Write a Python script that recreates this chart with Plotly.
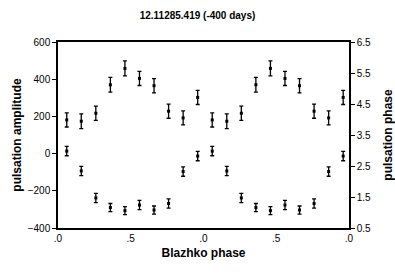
import plotly.graph_objects as go

blazhko_phase = [0.06, 0.16, 0.26, 0.36, 0.46, 0.56, 0.66, 0.76, 0.86, 0.96]
amplitude = [181, 174, 217, 370, 458, 404, 365, 228, 192, 302]
amplitude_err = [38, 40, 38, 40, 40, 38, 38, 38, 38, 38]
pulsation_phase = [2.98, 2.34, 1.47, 1.16, 1.06, 1.24, 1.08, 1.29, 2.32, 2.82]
phase_err = [0.15, 0.15, 0.15, 0.13, 0.13, 0.15, 0.13, 0.15, 0.15, 0.15]

x_ticks = [0, 0.5, 1, 1.5, 2]
x_ticktext = [".0", ".5", ".0", ".5", ".0"]
y1_ticks = [-400, -200, 0, 200, 400, 600]
y2_ticks = [0.5, 1.5, 2.5, 3.5, 4.5, 5.5, 6.5]

# two Blazhko cycles shown
xs = blazhko_phase + [p + 1 for p in blazhko_phase]
amp2 = amplitude * 2
amperr2 = amplitude_err * 2
ph2 = pulsation_phase * 2
pherr2 = phase_err * 2

fig = go.Figure()
fig.add_trace(go.Scatter(
    x=xs, y=amp2, mode="markers",
    marker=dict(symbol="square", size=3, color="black"),
    error_y=dict(type="data", array=amperr2, color="black", thickness=1.3, width=2),
    yaxis="y", showlegend=False))
fig.add_trace(go.Scatter(
    x=xs, y=ph2, mode="markers",
    marker=dict(symbol="square", size=3, color="black"),
    error_y=dict(type="data", array=pherr2, color="black", thickness=1.3, width=2),
    yaxis="y2", showlegend=False))

font = dict(family="Liberation Sans, Arial", size=10, color="black")
fig.update_layout(
    width=395, height=274,
    margin=dict(l=58, r=46, t=42, b=46),
    paper_bgcolor="white", plot_bgcolor="white",
    font=font,
    title=dict(text="<b>12.11285.419 (-400 days)</b>", x=0.5, xanchor="center",
               y=0.945, yanchor="middle", font=dict(size=10)),
    xaxis=dict(range=[0, 2], tickvals=x_ticks, ticktext=x_ticktext,
               showgrid=False, zeroline=False, showline=True, linecolor="black",
               linewidth=1.5, mirror=True, ticks="",
               title=dict(text="<b>Blazhko phase</b>", standoff=6),
               tickfont=dict(size=10)),
    yaxis=dict(range=[-400, 600], tickvals=y1_ticks, showgrid=False, zeroline=False,
               showline=True, linecolor="black", linewidth=1.5, ticks="outside",
               ticklen=4, tickcolor="black",
               title=dict(text="<b>pulsation amplitude</b>", standoff=4)),
    yaxis2=dict(range=[0.5, 6.5], tickvals=y2_ticks, overlaying="y", side="right",
                showgrid=False, zeroline=False, showline=True, linecolor="black",
                linewidth=1.5, ticks="outside", ticklen=4, tickcolor="black",
                tickformat=".1f", automargin=False,
                title=dict(text="<b>pulsation phase</b>", standoff=14)),
)
fig.write_html("out.html", config={"displayModeBar": False},
               post_script="document.body.style.margin='0';document.body.style.overflow='hidden';")
